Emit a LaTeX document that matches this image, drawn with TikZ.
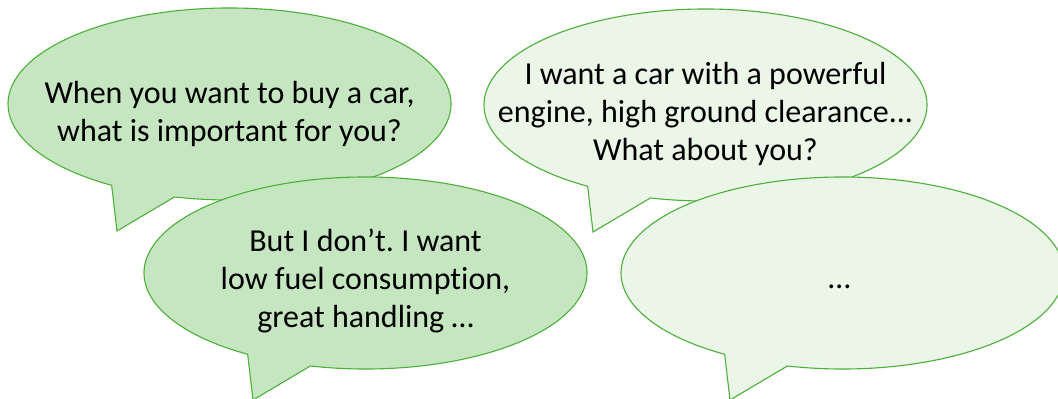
\documentclass[tikz,border=0pt]{standalone}
\usepackage{fontspec}
\setmainfont{Carlito}[Ligatures=NoCommon]
\usetikzlibrary{calc}
\definecolor{bubdark}{RGB}{197,230,192}
\definecolor{bublight}{RGB}{235,245,232}
\definecolor{bubline}{RGB}{76,176,58}
\tikzset{
  bubble/.style={draw=bubline, line width=1.1pt, line join=miter},
  said/.style={align=center, inner sep=0pt, font=\frenchspacing\fontsize{32}{38}\selectfont, text=black}
}
\newcommand\speechbubble[3]{%
  \coordinate (#1) at #2;
  \draw[bubble,#3] (#1) ++(255.6:221.5 and 96)
    arc[start angle=255.6, end angle=597.85, x radius=221.5, y radius=96]
    -- ($(#1)+(-112.5,-127)$) coordinate (#1tip) -- cycle;
}
\begin{document}
\begin{tikzpicture}[x=1pt,y=1pt]
\useasboundingbox (0,0) rectangle (1058,399);
\fill[white] (0,0) rectangle (1058,399);
\speechbubble{c1}{(229.5,295)}{fill=bubdark}
\speechbubble{c2}{(705.5,294)}{fill=bublight}
\node[said] (t1) at (229.5,285) {When you want to buy a car,\\what is important for you?};
\node[said] (t2) at (705.5,285.5) {I want a car with a powerful\\engine, high ground clearance...\\What about you?};
\speechbubble{c3}{(365.5,126)}{fill=bubdark}
\speechbubble{c4}{(842.5,126)}{fill=bublight}
\node[said] (t3) at (365.5,118.5) {But I don’t. I want\\low fuel consumption,\\great handling …};
\node[said, anchor=base] (t4) at (839.5,110) {…};
\end{tikzpicture}
\end{document}
